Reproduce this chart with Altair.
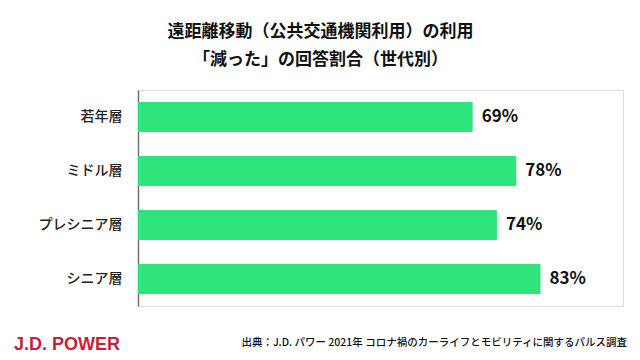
import altair as alt
import pandas as pd

categories = ["若年層", "ミドル層", "プレシニア層", "シニア層"]
values = [69, 78, 74, 83]
value_labels = [f"{v}%" for v in values]

title_lines = ["遠距離移動（公共交通機関利用）の利用", "「減った」の回答割合（世代別）"]
brand = "J.D. POWER"
source = "出典：J.D. パワー 2021年 コロナ禍のカーライフとモビリティに関するパルス調査"

df = pd.DataFrame({"cat": categories, "val": values, "label": value_labels})

FONT = "Noto Sans CJK JP"

y_enc = alt.Y("cat:N", sort=categories,
              scale=alt.Scale(paddingInner=0.444, paddingOuter=0.222),
              axis=alt.Axis(title=None, ticks=False, labelPadding=16, labelFontSize=14,
                            labelFont=FONT, labelFontWeight=500, labelColor="#222222",
                            domainColor="#707070", domainWidth=1.5, grid=False))
x_enc = alt.X("val:Q", scale=alt.Scale(domain=[0, 100]), axis=None)

bars = alt.Chart(df).mark_bar(color="#2FE47B").encode(x=x_enc, y=y_enc)
texts = alt.Chart(df).mark_text(align="left", dx=9, font=FONT, fontSize=17,
                                fontWeight="bold", color="#111111").encode(
    x=x_enc, y=alt.Y("cat:N", sort=categories), text="label:N")

brand_df = pd.DataFrame({"t": [brand]})
brand_mark = alt.Chart(brand_df).mark_text(align="left", baseline="middle",
                                           font="Liberation Sans", fontSize=18,
                                           fontWeight="bold", color="#C41E3A").encode(
    x=alt.value(-124), y=alt.value(255), text="t:N")
src_df = pd.DataFrame({"t": [source]})
src_mark = alt.Chart(src_df).mark_text(align="right", baseline="middle", font=FONT,
                                       fontSize=10.5, fontWeight=500, color="#111111").encode(
    x=alt.value(489), y=alt.value(253), text="t:N")

chart = alt.layer(bars, texts, brand_mark, src_mark).properties(
    width=485, height=216,
    autosize=alt.AutoSizeParams(type="none"),
    padding={"left": 130, "top": 82, "right": 9, "bottom": 48},
    title=alt.TitleParams(text=title_lines, fontSize=17, fontWeight="bold", font=FONT,
                          anchor="middle", frame="group", dx=-60, offset=21,
                          lineHeight=28, color="#111111"),
).configure_view(stroke=None).configure(background="white")

chart.save("out.html", embed_options={"renderer": "svg", "actions": False})
